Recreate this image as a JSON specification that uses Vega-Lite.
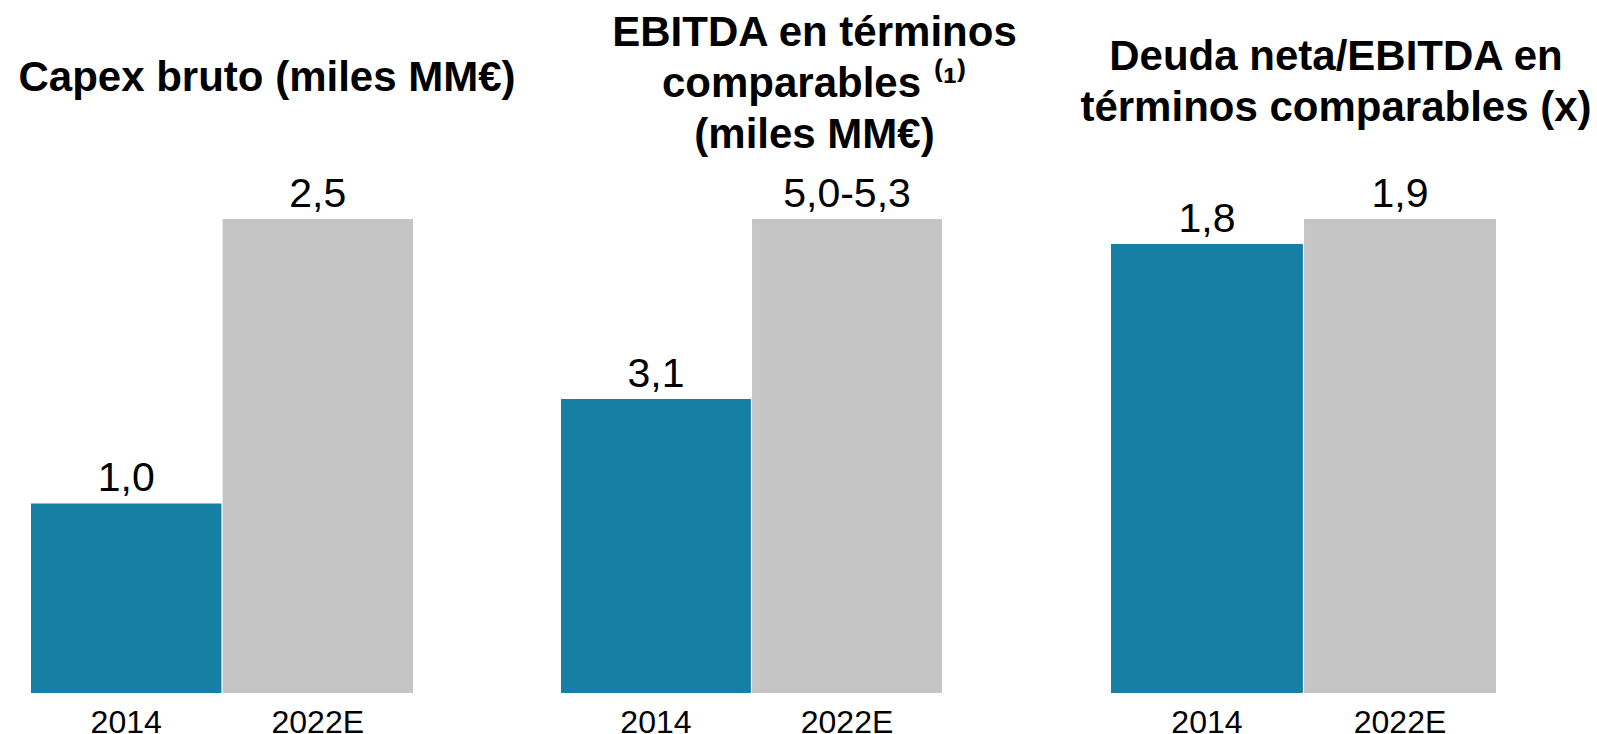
{
  "$schema": "https://vega.github.io/schema/vega-lite/v6.json",
  "padding": {"left": 18, "top": 12, "right": 0, "bottom": 0},
  "background": "white",
  "config": {
    "view": {"stroke": null},
    "font": "Liberation Sans",
    "title": {"fontSize": 42, "fontWeight": "bold", "color": "black", "lineHeight": 51, "anchor": "middle", "font": "Liberation Sans, Noto Sans"},
    "axisX": {"title": null, "labelAngle": 0, "domain": false, "ticks": false, "grid": false, "labelFontSize": 32, "labelPadding": 14, "labelColor": "black", "labelFont": "Liberation Sans"}
  },
  "datasets": {
    "d": [
      {"panel": "capex", "year": "2014", "value": 1.0, "label": "1,0"},
      {"panel": "capex", "year": "2022E", "value": 2.5, "label": "2,5"},
      {"panel": "ebitda", "year": "2014", "value": 3.1, "label": "3,1"},
      {"panel": "ebitda", "year": "2022E", "value": 5.0, "label": "5,0-5,3"},
      {"panel": "deuda", "year": "2014", "value": 1.8, "label": "1,8"},
      {"panel": "deuda", "year": "2022E", "value": 1.9, "label": "1,9"}
    ]
  },
  "bounds": "flush",
  "spacing": 148,
  "hconcat": [
    {
      "width": 382, "height": 474,
      "title": {"text": "Capex bruto (miles MM€)", "dx": 45, "offset": 74},
      "data": {"name": "d"},
      "transform": [{"filter": "datum.panel == 'capex'"}],
      "encoding": {
        "x": {"field": "year", "type": "nominal", "sort": null, "scale": {"paddingInner": 0.006, "paddingOuter": 0}},
        "y": {"field": "value", "type": "quantitative", "scale": {"domain": [0, 2.5], "nice": false, "zero": true}, "axis": null}
      },
      "layer": [
        {"mark": {"type": "bar"}, "encoding": {"color": {"field": "year", "type": "nominal", "scale": {"domain": ["2014", "2022E"], "range": ["#1680A4", "#C5C5C5"]}, "legend": null}}},
        {"mark": {"type": "text", "baseline": "bottom", "dy": -3, "fontSize": 41, "color": "black"}, "encoding": {"text": {"field": "label"}}}
      ]
    },
    {
      "width": 381, "height": 474,
      "title": {"text": ["EBITDA en términos", "comparables ⁽¹⁾", "(miles MM€)"], "dx": 63, "offset": 17},
      "data": {"name": "d"},
      "transform": [{"filter": "datum.panel == 'ebitda'"}],
      "encoding": {
        "x": {"field": "year", "type": "nominal", "sort": null, "scale": {"paddingInner": 0.006, "paddingOuter": 0}},
        "y": {"field": "value", "type": "quantitative", "scale": {"domain": [0, 5.0], "nice": false, "zero": true}, "axis": null}
      },
      "layer": [
        {"mark": {"type": "bar"}, "encoding": {"color": {"field": "year", "type": "nominal", "scale": {"domain": ["2014", "2022E"], "range": ["#1680A4", "#C5C5C5"]}, "legend": null}}},
        {"mark": {"type": "text", "baseline": "bottom", "dy": -3, "fontSize": 41, "color": "black"}, "encoding": {"text": {"field": "label"}}}
      ]
    },
    {
      "width": 406, "height": 474,
      "title": {"text": ["Deuda neta/EBITDA en", "términos comparables (x)"], "dx": 43, "offset": 44},
      "data": {"name": "d"},
      "transform": [{"filter": "datum.panel == 'deuda'"}],
      "encoding": {
        "x": {"field": "year", "type": "nominal", "sort": null, "scale": {"paddingInner": 0.006, "paddingOuter": 0, "range": [21, 406]}},
        "y": {"field": "value", "type": "quantitative", "scale": {"domain": [0, 1.9], "nice": false, "zero": true}, "axis": null}
      },
      "layer": [
        {"mark": {"type": "bar"}, "encoding": {"color": {"field": "year", "type": "nominal", "scale": {"domain": ["2014", "2022E"], "range": ["#1680A4", "#C5C5C5"]}, "legend": null}}},
        {"mark": {"type": "text", "baseline": "bottom", "dy": -3, "fontSize": 41, "color": "black"}, "encoding": {"text": {"field": "label"}}}
      ]
    }
  ]
}
